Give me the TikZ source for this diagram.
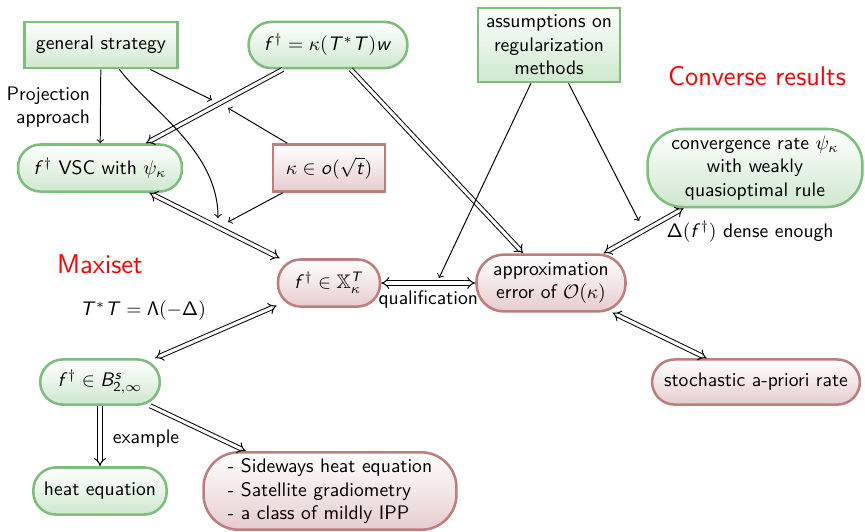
\documentclass[tikz,border=0pt]{standalone}
\usepackage{amsmath,amssymb}
\usetikzlibrary{arrows,calc}
\DeclareMathAlphabet{\mathsfit}{OT1}{cmss}{m}{sl}
\definecolor{gdraw}{RGB}{125,190,125}
\definecolor{gfill}{RGB}{206,232,206}
\definecolor{rdraw}{RGB}{192,125,125}
\definecolor{rfill}{RGB}{230,204,206}
\begin{document}
\begin{tikzpicture}[x=0.51pt,y=-0.51pt,
  base/.style={font=\sffamily, line width=1.3pt, inner sep=2pt, align=center},
  gsq/.style={base, draw=gdraw, top color=white, bottom color=gfill},
  ground/.style={gsq, rounded corners=11.5pt},
  rsq/.style={base, draw=rdraw, top color=white, bottom color=rfill},
  rround/.style={rsq, rounded corners=11.5pt},
  impl/.style={double, double distance=1.6pt, line width=0.5pt, -implies},
  bimpl/.style={double, double distance=1.6pt, line width=0.5pt, implies-implies},
  sarrow/.style={->, line width=0.5pt},
  lbl/.style={font=\sffamily},
  title/.style={font=\sffamily\fontsize{13.8}{16}\selectfont, text=red}]
\useasboundingbox (0,0) rectangle (865,531);

% nodes
\node[gsq, minimum width=78pt, minimum height=23.5pt] (gs) at (101,45) {general strategy};
\node[ground, minimum width=81pt, minimum height=23.5pt] (fk) at (328,45) {$\mathsfit{f}^\dagger = \kappa(\mathsfit{T}^*\mathsfit{T})\mathsfit{w}$};
\node[gsq, minimum width=72.4pt, minimum height=37.7pt] (as) at (549,45) {assumptions on\\regularization\\methods};
\node[ground, minimum width=83.6pt, minimum height=24pt] (vsc) at (100,168) {$\mathsfit{f}^\dagger$ VSC with $\psi_\kappa$};
\node[rsq, minimum width=57pt, minimum height=24pt] (ko) at (329,168) {$\kappa \in \mathsfit{o}(\sqrt{\mathsfit{t}})$};
\node[ground, rounded corners=18pt, minimum width=109.6pt, minimum height=39.8pt] (conv) at (755,168) {convergence rate $\psi_\kappa$\\with weakly\\quasioptimal rule};
\node[rround, minimum width=52pt, minimum height=24pt] (X) at (329,283) {$\mathsfit{f}^\dagger \in \mathbb{X}_\kappa^{\mathsfit{T}}$};
\node[rround, rounded corners=14pt, minimum width=76pt, minimum height=29pt] (ap) at (551,283) {approximation\\error of $\mathcal{O}(\kappa)$};
\node[ground, minimum width=61pt, minimum height=23pt] (B) at (100,382) {$\mathsfit{f}^\dagger \in \mathsfit{B}^{\mathsfit{s}}_{\mathsf{2},\infty}$};
\node[rround, minimum width=106pt, minimum height=23pt] (st) at (756,382) {stochastic a-priori rate};
\node[ground, minimum width=68pt, minimum height=24pt] (he) at (100,491) {heat equation};
\node[rround, rounded corners=18pt, align=left, minimum width=129pt, minimum height=39.5pt] (li) at (330,491) {- Sideways heat equation\\- Satellite gradiometry\\- a class of mildly IPP};

% free labels
\node[title] (conres) at (757,76) {Converse results};
\node[title] (maxi) at (100,264) {Maxiset};
\node[lbl, align=right, anchor=east] (proj) at (97,107) {Projection\\approach};
\node[lbl] (tt) at (143,311) {$\mathsfit{T}^*\mathsfit{T} = \mathsf{\Lambda}(-\mathsf{\Delta})$};

% targets of condition arrows
\coordinate (m1a) at (212,100);
\coordinate (m1b) at (228,108);
\coordinate (m2a) at (218,218);
\coordinate (m2b) at (228,222);
\coordinate (m3) at (439,278);
\coordinate (m4) at (639,221);

% implications
\draw[impl] (fk) -- (vsc);
\draw[impl] (fk) -- (ap);
\draw[bimpl] (vsc) -- (X);
\draw[bimpl] (X) -- node[lbl, below, pos=0.5, inner sep=1pt, yshift=-2.5pt] (qual) {qualification} (ap);
\draw[bimpl] (conv) -- node[lbl, right, pos=0.3, yshift=-5pt] (dense) {$\mathsf{\Delta}(\mathsfit{f}^\dagger)$ dense enough} (ap);
\draw[bimpl] (ap) -- (st);
\draw[bimpl] (X) -- (B);
\draw[impl] (B) -- node[lbl, right, xshift=3pt, yshift=-1.5pt] (ex) {example} (he);
\draw[impl] (B) -- (li);

% single arrows
\draw[sarrow] (gs) -- (vsc);
\draw[sarrow] (gs) -- (m1a);
\draw[sarrow] (ko) -- (m1b);
\draw[sarrow] (gs) .. controls (150,110) and (218,150) .. (m2a);
\draw[sarrow] (ko) -- (m2b);
\draw[sarrow] (as) -- (m3);
\draw[sarrow] (as) -- (m4);
\end{tikzpicture}
\end{document}
